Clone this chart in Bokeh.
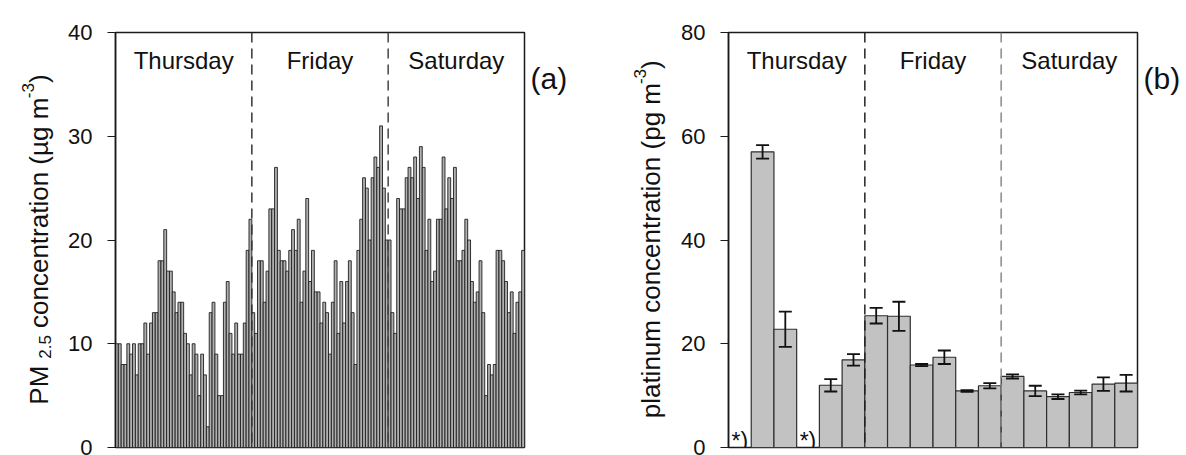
import math
from bokeh.plotting import figure
from bokeh.layouts import row
from bokeh.models import (Span, Label, FixedTicker, Whisker, ColumnDataSource,
                          TeeHead, Range1d)
from bokeh.embed import file_html
from bokeh.resources import INLINE

# ---------------- data ----------------
days = ["Thursday", "Friday", "Saturday"]

# PM2.5, half-hourly (48 values per day)
pm25_thu = [10, 10, 8, 8, 10, 9, 10, 7, 10, 10, 12, 9, 12, 13, 13, 18, 18, 21, 17, 17,
            15, 13, 14, 14, 11, 10, 7, 10, 9, 5, 9, 7, 2, 13, 14, 9, 5, 5, 14, 16,
            11, 9, 12, 9, 9, 12, 19, 22]
pm25_fri = [13, 11, 18, 18, 14, 17, 23, 23, 27, 19, 18, 18, 17, 19, 21, 19, 22, 14, 17, 24,
            16, 19, 15, 15, 12, 14, 13, 9, 14, 18, 11, 16, 12, 16, 18, 13, 8, 19, 22, 26,
            25, 20, 26, 28, 27, 31, 25, 20]
pm25_sat = [20, 13, 11, 24, 23, 23, 26, 27, 26, 28, 24, 29, 27, 19, 22, 16, 17, 22, 22, 28,
            23, 26, 24, 27, 18, 18, 19, 22, 20, 16, 14, 15, 18, 13, 5, 8, 7, 8, 19, 19,
            18, 16, 13, 15, 11, 14, 15, 19]
pm25_ticks = [0, 10, 20, 30, 40]

# platinum, 6 samples per day (None = no sample, marked "*)")
pt_mean = [None, 57.0, 22.8, None, 12.0, 16.9,
           25.4, 25.3, 15.9, 17.4, 10.9, 11.9,
           13.7, 10.9, 9.8, 10.6, 12.2, 12.4]
pt_err = [None, 1.3, 3.4, None, 1.2, 1.1,
          1.5, 2.8, 0.2, 1.3, 0.15, 0.5,
          0.4, 1.0, 0.45, 0.35, 1.3, 1.6]
pt_ticks = [0, 20, 40, 60, 80]
missing_mark = "*)"
panel_tags = ["(a)", "(b)"]

FONT = "Liberation Sans"
H = 455
INK = "#111111"
TITLE_PX = 26
SMALL_PX = 17

# approximate advance widths (per em) for building the composite axis titles
W = {"P": .667, "M": .833, " ": .278, "2": .556, ".": .278, "5": .556, "c": .5,
     "o": .556, "n": .556, "e": .556, "t": .278, "r": .333, "a": .556, "i": .222,
     "(": .333, "µ": .576, "g": .556, "m": .833, "-": .333, "3": .556, ")": .333,
     "p": .556, "l": .222, "u": .556}


def text_w(s, size):
    return sum(W.get(ch, .556) for ch in s) * size * 1.09


def base_fig(width, left, right, nx, ymax, ticks):
    p = figure(width=width, height=H, x_range=Range1d(0, nx), y_range=Range1d(0, ymax),
               output_backend="svg", toolbar_location=None, x_axis_location=None,
               min_border_left=left, min_border_right=right,
               min_border_top=32, min_border_bottom=8)
    p.grid.visible = False
    p.outline_line_color = "#1a1a1a"
    p.outline_line_width = 1.5
    p.outline_line_alpha = 1.0
    ax = p.yaxis[0]
    ax.ticker = FixedTicker(ticks=ticks)
    ax.axis_line_color = "#1a1a1a"
    ax.axis_line_width = 1.5
    ax.major_tick_line_color = "#1a1a1a"
    ax.major_tick_line_width = 1.2
    ax.major_tick_out = 8
    ax.major_tick_in = 0
    ax.minor_tick_out = 0
    ax.minor_tick_in = 0
    ax.major_label_text_font = FONT
    ax.major_label_text_font_size = "22px"
    ax.major_label_text_color = INK
    ax.major_label_standoff = 15
    p.border_fill_color = "white"
    return p


def text_fig(width):
    # blank strip whose data units are pixels (y measured from the bottom)
    f = figure(width=width, height=H, x_range=Range1d(0, width), y_range=Range1d(0, H),
               output_backend="svg", toolbar_location=None,
               x_axis_location=None, y_axis_location=None,
               min_border_left=0, min_border_right=0, min_border_top=0, min_border_bottom=0)
    f.grid.visible = False
    f.outline_line_color = None
    return f


def add_title(f, pieces, x0, y0):
    # pieces: (text, font size, baseline shift in px (+ = below baseline), advance before)
    adv = 0.0
    for txt, size, shift, pre in pieces:
        adv += pre
        f.add_layout(Label(x=x0 + shift, y=y0 + adv, text=txt,
                           angle=math.pi / 2, text_align="left", text_baseline="alphabetic",
                           text_font=FONT, text_font_size=f"{size}px", text_color=INK))
        adv += text_w(txt, size)


def add_tag(f, txt):
    f.add_layout(Label(x=4, y=H - 50, text=txt, text_font=FONT, text_font_size="30px",
                       text_color=INK, text_baseline="alphabetic", text_align="left"))


def add_days(p, per_day, ymax, dash_colors):
    for k, d in enumerate(days):
        p.add_layout(Label(x=per_day * (k + 0.5), y=ymax, y_offset=-28, text=d,
                           text_align="center", text_baseline="alphabetic",
                           text_font=FONT, text_font_size="24px", text_color=INK))
    for k, c in enumerate(dash_colors):
        p.add_layout(Span(location=per_day * (k + 1), dimension="height", line_color=c,
                          line_width=1.5, line_dash="10 6"))


# ---------------- title strip for (a) ----------------
fa = text_fig(60)
add_title(fa, [("PM", TITLE_PX, 0, 0), ("2.5", SMALL_PX, 6, text_w(" ", TITLE_PX)),
               ("concentration (µg m", TITLE_PX, 0, text_w(" ", TITLE_PX)),
               ("-3", SMALL_PX, -11, 1), (")", TITLE_PX, 0, 0)], 38, 47)

# ---------------- panel (a) ----------------
pm25 = pm25_thu + pm25_fri + pm25_sat
na = len(pm25)
pa = base_fig(466, 55, 2, na, 40, pm25_ticks)
src_a = ColumnDataSource(dict(x=[i + 0.5 for i in range(na)], top=pm25))
pa.vbar(x="x", top="top", width=1.0, bottom=0, source=src_a,
        fill_color="#b0b0b0", line_color="#1e1e1e", line_width=0.9)
add_days(pa, na // 3, 40, ["#333333", "#444444"])

# ---------------- middle strip: (a) tag and title for (b) ----------------
fm = text_fig(144)
add_tag(fm, panel_tags[0])
add_title(fm, [("platinum concentration (pg m", TITLE_PX, 0, 0),
               ("-3", SMALL_PX, -11, 1), (")", TITLE_PX, 0, 0)], 124, 32)

# ---------------- panel (b) ----------------
nb = len(pt_mean)
pb = base_fig(469, 58, 2, nb, 80, pt_ticks)
xs = [i + 0.5 for i, v in enumerate(pt_mean) if v is not None]
tops = [v for v in pt_mean if v is not None]
errs = [e for e in pt_err if e is not None]
src_b = ColumnDataSource(dict(x=xs, top=tops,
                              upper=[t + e for t, e in zip(tops, errs)],
                              lower=[t - e for t, e in zip(tops, errs)]))
pb.vbar(x="x", top="top", width=1.0, bottom=0, source=src_b,
        fill_color="#c2c2c2", line_color="#2e2e2e", line_width=1.2)
pb.add_layout(Whisker(source=src_b, base="x", upper="upper", lower="lower",
                      level="overlay", line_color=INK, line_width=1.8,
                      upper_head=TeeHead(size=13, line_width=1.8, line_color=INK),
                      lower_head=TeeHead(size=13, line_width=1.8, line_color=INK)))
for i, v in enumerate(pt_mean):
    if v is None:
        pb.add_layout(Label(x=i, y=0, x_offset=3, y_offset=7, text=missing_mark,
                            text_font=FONT, text_font_size="23px", text_color=INK,
                            text_baseline="alphabetic", text_align="left"))
add_days(pb, nb // 3, 80, ["#222222", "#888888"])

# ---------------- right strip: (b) tag ----------------
fc = text_fig(47)
add_tag(fc, panel_tags[1])

layout = row(fa, pa, fm, pb, fc)
open("out.html", "w").write(file_html(layout, INLINE))
